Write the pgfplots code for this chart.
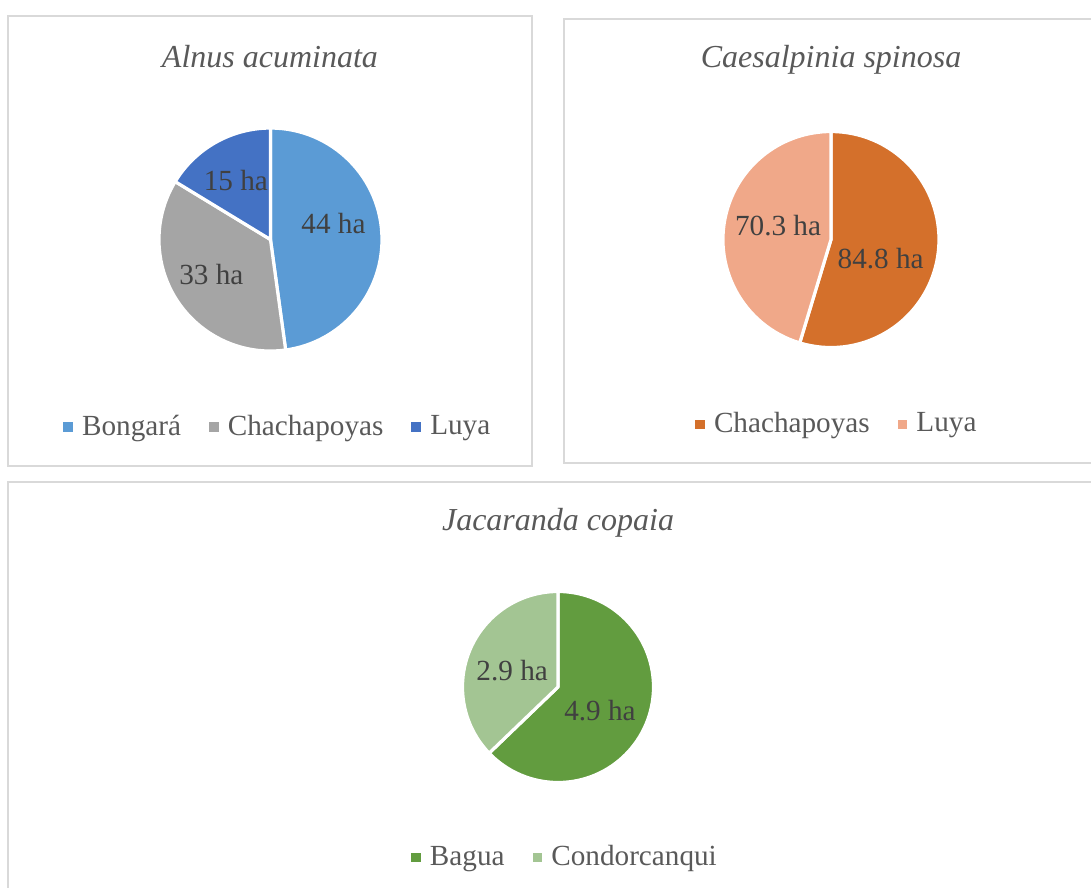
\documentclass[border=0pt]{standalone}
\usepackage{fontspec}
\setmainfont{Liberation Serif}
\usepackage{pgfplots}
\usepackage{pgfplotstable}
\pgfplotsset{compat=1.18}

\definecolor{bongara}{HTML}{5B9BD5}
\definecolor{chachaA}{HTML}{A5A5A5}
\definecolor{luyaA}{HTML}{4472C4}
\definecolor{chachaC}{HTML}{D4702B}
\definecolor{luyaC}{HTML}{F0A889}
\definecolor{bagua}{HTML}{629C3F}
\definecolor{condor}{HTML}{A3C593}
\definecolor{panelgray}{HTML}{D9D9D9}
\definecolor{titlegray}{HTML}{595959}
\definecolor{labgray}{HTML}{404040}

% name, value (ha), colour, label position (in radii from the centre)
\pgfplotstableread{
name val col lx ly
Bongará 44 bongara 0.565 0.14
Chachapoyas 33 chachaA -0.53 -0.31
Luya 15 luyaA -0.31 0.525
}\alnus
\pgfplotstableread{
name val col lx ly
Chachapoyas 84.8 chachaC 0.46 -0.18
Luya 70.3 luyaC -0.49 0.125
}\caesal
\pgfplotstableread{
name val col lx ly
Bagua 4.9 bagua 0.44 -0.25
Condorcanqui 2.9 condor -0.48 0.17
}\jacar

\newcommand\drawpie[2]{%
  \pgfplotstablegetrowsof{#1}%
  \pgfmathtruncatemacro\lastrow{\pgfplotsretval-1}%
  \def\pietot{0}%
  \pgfplotsforeachungrouped \i in {0,...,\lastrow}{%
    \pgfplotstablegetelem{\i}{val}\of{#1}%
    \pgfmathsetmacro\pietot{\pietot+\pgfplotsretval}}%
  \def\piecur{90}%
  \pgfplotsforeachungrouped \i in {0,...,\lastrow}{%
    \pgfplotstablegetelem{\i}{val}\of{#1}\let\pieval\pgfplotsretval
    \pgfplotstablegetelem{\i}{col}\of{#1}\let\piecol\pgfplotsretval
    \pgfplotstablegetelem{\i}{name}\of{#1}\let\piename\pgfplotsretval
    \pgfmathsetmacro\piefrac{\pieval/\pietot}%
    \pgfmathsetmacro\pienext{\piecur-360*\piefrac}%
    \pgfmathsetmacro\piex{cos(\piecur)}%
    \pgfmathsetmacro\piey{sin(\piecur)}%
    \edef\temp{\noexpand\fill[\piecol, draw=white, line width=1.6bp, line join=round]
      (axis cs:0,0) -- (axis cs:\piex,\piey) arc[start angle=\piecur, end angle=\pienext, radius=#2] -- cycle;
      \noexpand\addlegendimage{color=\piecol, fill=\piecol, draw=none}\noexpand\addlegendentry{\piename}}%
    \temp
    \let\piecur\pienext
  }%
  \pgfplotsforeachungrouped \i in {0,...,\lastrow}{%
    \pgfplotstablegetelem{\i}{val}\of{#1}\let\pieval\pgfplotsretval
    \pgfplotstablegetelem{\i}{lx}\of{#1}\let\pielx\pgfplotsretval
    \pgfplotstablegetelem{\i}{ly}\of{#1}\let\piely\pgfplotsretval
    \edef\temp{\noexpand\node[datalab] at (axis cs:\pielx,\piely) {\pieval\space ha};}%
    \temp
  }%
}

\tikzset{
  datalab/.style={font=\fontsize{14.6bp}{17bp}\selectfont, text=labgray, inner sep=0pt, anchor=center},
  pietitle/.style={font=\fontsize{16bp}{19bp}\selectfont\itshape, text=titlegray, inner sep=0pt, anchor=center},
}
\pgfplotsset{
  panel/.style={
    axis line style={draw=panelgray, line width=0.75bp},
    xtick=\empty, ytick=\empty,
    enlargelimits=false,
    clip=false,
    anchor=south west,
    legend columns=-1,
    legend image code/.code={\path[draw=none, fill] (0bp,-2.6bp) rectangle (4.8bp,2.2bp);},
    legend style={draw=none, fill=none, anchor=center,
      font=\fontsize{14.6bp}{17bp}\selectfont,
      nodes={inner sep=0pt, text=titlegray},
      /tikz/every odd column/.append style={column sep=4.6bp},
      /tikz/every even column/.append style={column sep=14bp}},
  },
}

\begin{document}
\begin{tikzpicture}
\useasboundingbox (0,0) rectangle (545.5bp,444bp);

% Alnus acuminata
\begin{axis}[panel, at={(4bp,211bp)},
  x=55.75bp, y=55.75bp,
  xmin=-2.354, xmax=2.345, ymin=-2.031, ymax=2.004,
  legend style={at={(axis description cs:0.513,0.087)}}]
  \drawpie{\alnus}{55.75bp}
  \node[pietitle] at (axis description cs:0.5,0.909) {Alnus acuminata};
\end{axis}

% Caesalpinia spinosa
\begin{axis}[panel, at={(282bp,212.5bp)},
  x=54bp, y=54bp,
  xmin=-2.472, xmax=2.444, ymin=-2.069, ymax=2.042,
  legend style={at={(axis description cs:0.512,0.088)}}]
  \drawpie{\caesal}{54bp}
  \node[pietitle] at (axis description cs:0.503,0.908) {Caesalpinia spinosa};
\end{axis}

% Jacaranda copaia
\begin{axis}[panel, at={(4bp,-3.5bp)},
  x=47.75bp, y=47.75bp,
  xmin=-5.759, xmax=5.623, ymin=-2.178, ymax=2.147,
  legend style={at={(axis description cs:0.5115,0.092)}}]
  \drawpie{\jacar}{47.75bp}
  \node[pietitle] at (axis description cs:0.506,0.901) {Jacaranda copaia};
\end{axis}
\end{tikzpicture}
\end{document}
